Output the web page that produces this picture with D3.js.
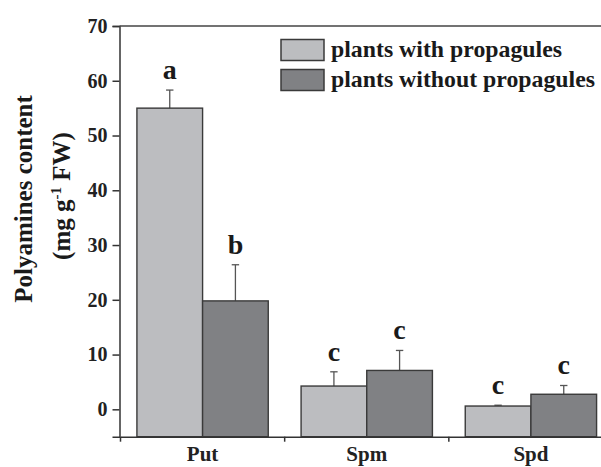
<!DOCTYPE html>
<html><head><meta charset="utf-8">
<script src="https://cdn.jsdelivr.net/npm/d3@7"></script>
<style>
html,body{margin:0;padding:0;background:#fff;}
svg{display:block;font-family:"Liberation Serif","Times New Roman",serif;font-weight:bold;}
</style></head>
<body><svg id="c" width="601" height="467"></svg>
<script>
const categories = ["Put", "Spm", "Spd"];
const seriesNames = ["plants with propagules", "plants without propagules"];
const withProp = [55.0, 4.25, 0.6];
const withPropErr = [3.3, 2.6, 0.15];
const withoutProp = [19.8, 7.1, 2.75];
const withoutPropErr = [6.6, 3.65, 1.6];
const withLetters = ["a", "c", "c"];
const withoutLetters = ["b", "c", "c"];
const yTicks = [0, 10, 20, 30, 40, 50, 60, 70];

const colors = ["#bcbdc0", "#808184"];
const edge = "#3a3a3a";

const svg = d3.select("#c");
const x = d3.scaleBand().domain(categories).range([120.5, 613]).padding(0);
const xs = d3.scaleBand().domain(seriesNames).range([0, x.bandwidth()]).paddingInner(0).paddingOuter(0.25);
const y = d3.scaleLinear().domain([-5, 70]).range([436.7, 26]);

const rows = [];
categories.forEach((c, i) => {
  rows.push({cat: c, s: seriesNames[0], v: withProp[i], e: withPropErr[i], l: withLetters[i], k: 0});
  rows.push({cat: c, s: seriesNames[1], v: withoutProp[i], e: withoutPropErr[i], l: withoutLetters[i], k: 1});
});

// error bars
const eb = svg.append("g").attr("stroke", "#555").attr("stroke-width", 1.3);
rows.forEach(d => {
  const cx = x(d.cat) + xs(d.s) + xs.bandwidth() / 2;
  eb.append("line").attr("x1", cx).attr("x2", cx).attr("y1", y(d.v)).attr("y2", y(d.v + d.e));
  eb.append("line").attr("x1", cx - 3.7).attr("x2", cx + 3.7).attr("y1", y(d.v + d.e)).attr("y2", y(d.v + d.e));
});

// bars
svg.append("g").selectAll("rect").data(rows).join("rect")
  .attr("x", d => x(d.cat) + xs(d.s))
  .attr("width", xs.bandwidth())
  .attr("y", d => y(d.v))
  .attr("height", d => y(-5) - y(d.v))
  .attr("fill", d => colors[d.k])
  .attr("stroke", edge).attr("stroke-width", 1.4);

// letters
svg.append("g").selectAll("text").data(rows).join("text")
  .attr("x", d => x(d.cat) + xs(d.s) + xs.bandwidth() / 2)
  .attr("y", d => y(d.v + d.e) - 11)
  .attr("text-anchor", "middle")
  .attr("font-size", 28).attr("fill", "#1a1a1a")
  .text(d => d.l);

// y axis
const ya = svg.append("g").attr("transform", "translate(119.5,0)")
  .call(d3.axisLeft(y).tickValues(yTicks).tickSize(7).tickPadding(5));
ya.select(".domain").attr("stroke", "#333").attr("stroke-width", 1.5);
ya.selectAll(".tick line").attr("stroke", "#333").attr("stroke-width", 1.5);
ya.selectAll(".tick text").attr("font-size", 20).attr("fill", "#222")
  .attr("font-family", "Liberation Serif").attr("font-weight", "bold");

// top frame line
svg.append("line").attr("x1", 119.5).attr("x2", 613).attr("y1", y(70)).attr("y2", y(70))
  .attr("stroke", "#444").attr("stroke-width", 1.5);

// x axis
const xa = svg.append("g").attr("transform", `translate(0,${y(-5)})`)
  .call(d3.axisBottom(x).tickSize(0).tickPadding(8.5));
xa.select(".domain").attr("stroke", "#333").attr("stroke-width", 1.5);
xa.selectAll(".tick text").attr("font-size", 21).attr("fill", "#222")
  .attr("font-family", "Liberation Serif").attr("font-weight", "bold").attr("dy", "0.75em");
const bounds = categories.map(c => x(c)).concat([x.range()[1]]);
xa.selectAll(".bt").data(bounds).join("line").attr("class", "bt")
  .attr("x1", d => d).attr("x2", d => d).attr("y1", 0).attr("y2", 5)
  .attr("stroke", "#333").attr("stroke-width", 1.5);

// legend
const lg = svg.append("g").attr("transform", "translate(281,39.5)");
seriesNames.forEach((s, i) => {
  lg.append("rect").attr("x", 0).attr("y", i * 30).attr("width", 43).attr("height", 21)
    .attr("fill", colors[i]).attr("stroke", edge).attr("stroke-width", 1.5);
  lg.append("text").attr("x", 50).attr("y", i * 30 + 17.5).attr("font-size", 23.8)
    .attr("fill", "#1a1a1a").text(s);
});

// y title
const yt = svg.append("g").attr("transform", "translate(32,199) rotate(-90)");
yt.append("text").attr("text-anchor", "middle").attr("font-size", 25).attr("fill", "#1a1a1a")
  .text("Polyamines content");
const t2 = svg.append("text").attr("transform", "translate(70,196) rotate(-90)")
  .attr("text-anchor", "middle").attr("font-size", 25).attr("fill", "#1a1a1a");
t2.append("tspan").text("(mg g");
t2.append("tspan").attr("font-size", 15).attr("dy", -9).text("-1");
t2.append("tspan").attr("dy", 9).text(" FW)");
</script></body></html>
